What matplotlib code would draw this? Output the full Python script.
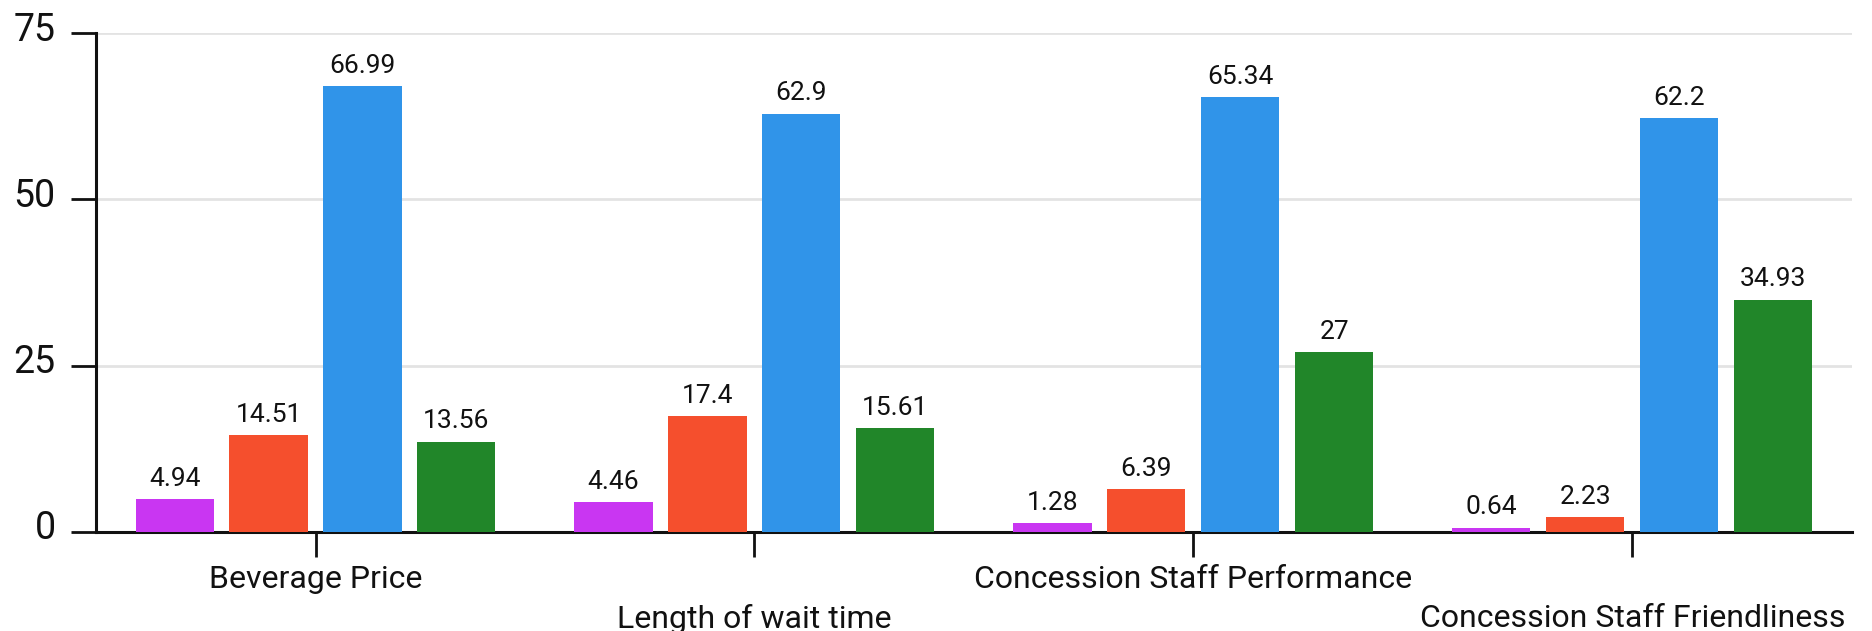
import matplotlib
matplotlib.use("Agg")
import matplotlib.pyplot as plt
import matplotlib.transforms as mtransforms
import numpy as np

categories = ["Beverage Price", "Length of wait time",
              "Concession Staff Performance", "Concession Staff Friendliness"]
series_a = [4.94, 4.46, 1.28, 0.64]
series_b = [14.51, 17.4, 6.39, 2.23]
series_c = [66.99, 62.9, 65.34, 62.2]
series_d = [13.56, 15.61, 27, 34.93]
y_ticks = [0, 25, 50, 75]

colors = ["#C936F2", "#F54F2D", "#3094E9", "#218629"]

plt.rcParams["font.family"] = ["Roboto", "DejaVu Sans"]

fig = plt.figure(figsize=(18.72, 6.31), dpi=100)
ax = fig.add_axes([0.0513, 0.1569, 0.9379, 0.7908])

x = np.arange(len(categories))
width = 0.178
pitch = 0.214
for i, (vals, col) in enumerate(zip([series_a, series_b, series_c, series_d], colors)):
    bars = ax.bar(x + (i - 1.5) * pitch, vals, width, color=col, zorder=3)
    ax.bar_label(bars, labels=[f"{v:g}" for v in vals], padding=6,
                 fontsize=19, color="#111111")

ax.set_xlim(-0.5, len(categories) - 0.5)
ax.set_ylim(0, 75)
ax.set_yticks(y_ticks)
ax.set_yticklabels([str(t) for t in y_ticks])
ax.yaxis.grid(True, color="#e3e3e3", linewidth=2, zorder=0)
ax.set_axisbelow(True)

for side in ["top", "right"]:
    ax.spines[side].set_visible(False)
for side in ["left", "bottom"]:
    ax.spines[side].set_linewidth(2.2)
    ax.spines[side].set_color("#111111")

ax.tick_params(axis="y", length=18, width=2, pad=11, labelsize=27,
               colors="#111111")
ax.tick_params(axis="x", length=18, width=2, labelsize=23, colors="#111111")
ax.set_xticks(x)
ax.set_xticklabels(categories)
for i, tick in enumerate(ax.xaxis.get_major_ticks()):
    tick.set_pad(5.5 if i % 2 == 0 else 34)

# y tick labels sit slightly above their gridlines
lift = mtransforms.ScaledTranslation(0, 7 / 100, fig.dpi_scale_trans)
for lbl in ax.get_yticklabels():
    lbl.set_transform(lbl.get_transform() + lift)

fig.savefig("out.png", dpi=100, facecolor="white")
